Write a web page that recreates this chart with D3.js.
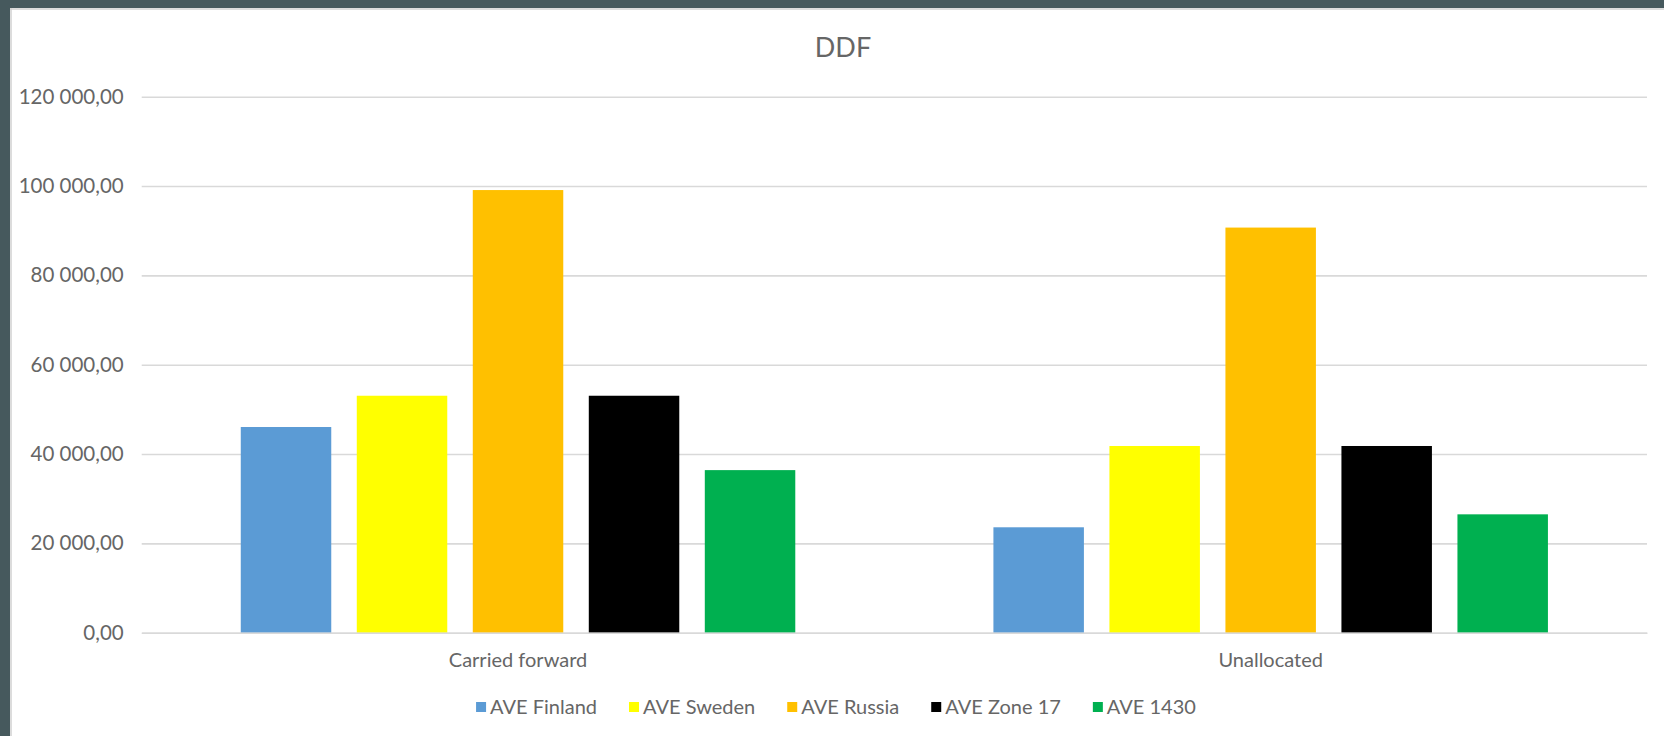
<!DOCTYPE html>
<html><head><meta charset="utf-8">
<script src="https://cdn.jsdelivr.net/npm/d3@7"></script>
<style>html,body{margin:0;padding:0;background:#fff;overflow:hidden} svg{display:block}</style>
</head><body><svg id="c" width="1664" height="736"></svg>
<script>
const categories = ["Carried forward", "Unallocated"];
const seriesNames = ["AVE Finland", "AVE Sweden", "AVE Russia", "AVE Zone 17", "AVE 1430"];
const seriesColors = ["#5b9bd5", "#ffff00", "#ffc000", "#000000", "#00b050"];
const aveFinland = [46050, 23600];
const aveSweden = [53050, 41800];
const aveRussia = [99100, 90700];
const aveZone17 = [53050, 41800];
const ave1430 = [36400, 26500];
const yTicks = [0, 20000, 40000, 60000, 80000, 100000, 120000];
const chartTitle = "DDF";

const seriesValues = [aveFinland, aveSweden, aveRussia, aveZone17, ave1430];
const FONT = "Lato, 'Open Sans', sans-serif";
const TEXT = "#666666";
const W = 1664, H = 736;
const svg = d3.select("#c");

// frame
svg.append("rect").attr("x", 0).attr("y", 0).attr("width", W).attr("height", H).attr("fill", "#46595d");
svg.append("rect").attr("x", 10).attr("y", 8).attr("width", W - 10).attr("height", H - 8).attr("fill", "#ffffff");
svg.append("line").attr("x1", 10).attr("x2", W).attr("y1", 9).attr("y2", 9).attr("stroke", "#d0d0d0").attr("stroke-width", 1.5);
svg.append("line").attr("x1", 11).attr("x2", 11).attr("y1", 8).attr("y2", H).attr("stroke", "#d0d0d0").attr("stroke-width", 1.5);

const plot = {left: 141.7, right: 1647, top: 96.7, bottom: 632.7};

const y = d3.scaleLinear().domain([0, 120000]).range([plot.bottom, plot.top]);
const x0 = d3.scaleBand().domain(categories).range([plot.left, plot.right]).padding(0);
const x1 = d3.scaleBand().domain(seriesNames).range([0, x0.bandwidth()]).paddingInner(0.22).paddingOuter(0.854);

const locale = d3.formatLocale({decimal: ",", thousands: " ", grouping: [3], currency: ["", ""]});
const fmt = locale.format(",.2f");

// gridlines
const yAxis = d3.axisLeft(y).tickValues(yTicks).tickFormat(fmt).tickSize(-(plot.right - plot.left)).tickPadding(18);
const gy = svg.append("g").attr("transform", `translate(${plot.left},0)`).call(yAxis);
gy.select(".domain").remove();
gy.selectAll(".tick line").attr("stroke", "#d9d9d9").attr("stroke-width", 1.6);
gy.selectAll(".tick text").attr("fill", TEXT).style("font-family", FONT).style("font-size", "20.5px");

// bars
const groups = svg.append("g").selectAll("g").data(categories).join("g")
  .attr("transform", d => `translate(${x0(d)},0)`);
groups.selectAll("rect").data((c, ci) => seriesNames.map((s, si) => ({s, si, v: seriesValues[si][ci]})))
  .join("rect")
  .attr("x", d => x1(d.s))
  .attr("width", x1.bandwidth())
  .attr("y", d => y(d.v))
  .attr("height", d => y(0) - y(d.v))
  .attr("fill", d => seriesColors[d.si]);

// category axis
const xAxis = d3.axisBottom(x0).tickSize(0).tickPadding(20);
const gx = svg.append("g").attr("transform", `translate(0,${plot.bottom})`).call(xAxis);
gx.select(".domain").attr("stroke", "#d9d9d9").attr("stroke-width", 1.6);
gx.selectAll(".tick text").attr("fill", TEXT).style("font-family", FONT).style("font-size", "20px");

// title
svg.append("text").attr("x", 843).attr("y", 57).attr("text-anchor", "middle")
  .attr("fill", TEXT).style("font-family", FONT).style("font-size", "27px").text(chartTitle);

// legend
const lg = svg.append("g");
const items = lg.selectAll("g").data(seriesNames).join("g");
items.append("rect").attr("width", 10).attr("height", 10).attr("y", -5).attr("fill", (d, i) => seriesColors[i]);
items.append("text").attr("x", 14).attr("dy", "0.35em").attr("fill", TEXT)
  .style("font-family", FONT).style("font-size", "20px").text(d => d);
let xpos = 0;
items.each(function() {
  const g = d3.select(this);
  g.attr("transform", `translate(${xpos},0)`);
  const w = g.select("text").node().getComputedTextLength();
  xpos += 14 + w + 32;
});
const total = xpos - 32;
lg.attr("transform", `translate(${836 - total / 2},707)`);
</script></body></html>
